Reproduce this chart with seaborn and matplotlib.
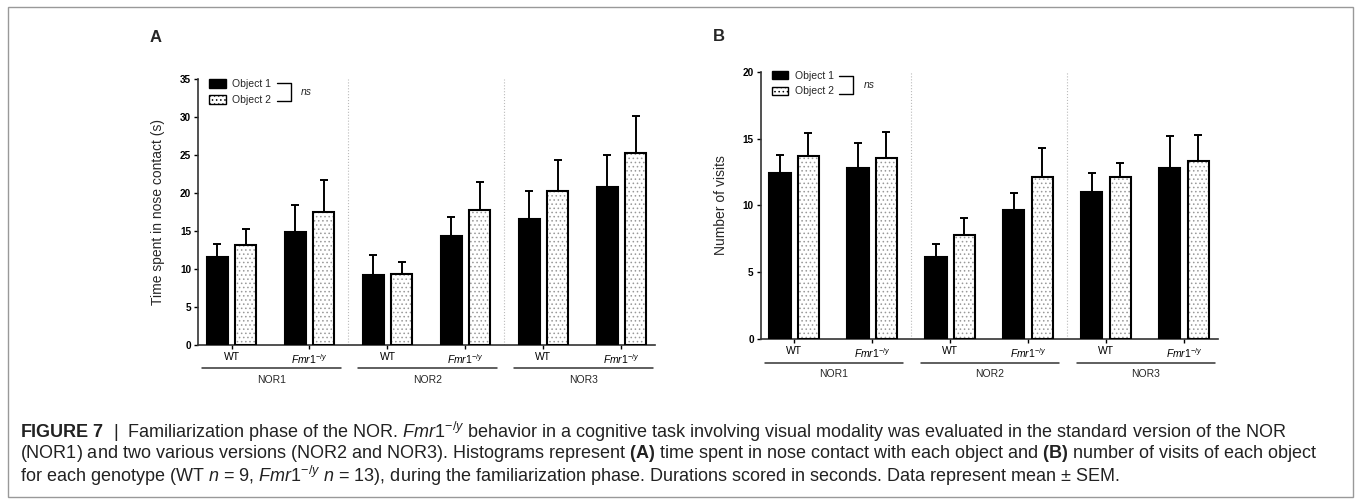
import matplotlib
matplotlib.use("Agg")
import matplotlib.pyplot as plt
import matplotlib.transforms as mtransforms
from matplotlib.patches import Patch, Rectangle
import pandas as pd
import seaborn as sns

# values (mean and SEM)
groups = ["NOR1", "NOR2", "NOR3"]
genotypes = ["WT", "Fmr1"]
objects = ["Object 1", "Object 2"]

time_obj1 = [11.6, 14.9, 9.2, 14.3, 16.6, 20.8]
time_obj1_sem = [1.7, 3.5, 2.6, 2.6, 3.6, 4.2]
time_obj2 = [13.1, 17.5, 9.3, 17.8, 20.2, 25.3]
time_obj2_sem = [2.2, 4.2, 1.6, 3.6, 4.2, 4.8]

visits_obj1 = [12.4, 12.8, 6.15, 9.65, 11.0, 12.8]
visits_obj1_sem = [1.4, 1.85, 0.95, 1.3, 1.45, 2.4]
visits_obj2 = [13.7, 13.55, 7.8, 12.1, 12.15, 13.35]
visits_obj2_sem = [1.7, 1.95, 1.25, 2.2, 1.0, 1.95]

tick_labels = ["WT", r"$\mathit{Fmr1}^{-/y}$"] * 3

sns.set_style("ticks")
plt.rcParams["font.family"] = ["Liberation Sans", "DejaVu Sans"]
plt.rcParams["mathtext.fontset"] = "custom"
plt.rcParams["mathtext.rm"] = "Liberation Sans"
plt.rcParams["mathtext.it"] = "Liberation Sans:italic"
plt.rcParams["mathtext.bf"] = "Liberation Sans:bold"
plt.rcParams["hatch.linewidth"] = 0.6

conds = [g + " " + t for g in groups for t in genotypes]


def make_frame(v1, v2):
    rows = []
    for c, a, b in zip(conds, v1, v2):
        rows.append({"cond": c, "object": objects[0], "value": a})
        rows.append({"cond": c, "object": objects[1], "value": b})
    return pd.DataFrame(rows)


def draw_panel(ax, v1, s1, v2, s2, ymax, ylabel, leg_y):
    df = make_frame(v1, v2)
    sns.barplot(data=df, x="cond", y="value", hue="object", order=conds,
                hue_order=objects, palette=["black", "white"], width=0.73,
                gap=0.26, edgecolor="black", linewidth=1.5, errorbar=None,
                legend=False, ax=ax, zorder=3)
    for cont, sem in zip(ax.containers, [s1, s2]):
        xs = [b.get_x() + b.get_width() / 2 for b in cont]
        ys = [b.get_height() for b in cont]
        ax.errorbar(xs, ys, yerr=[[0] * len(sem), sem], fmt="none",
                    ecolor="black", elinewidth=1.4, capsize=3.2,
                    capthick=1.4, zorder=2)
    for b in ax.containers[1]:
        b.set_hatch("....")
        b._hatch_color = (0.6, 0.6, 0.6, 1)

    ax.set_ylim(0, ymax)
    ax.set_yticks(range(0, ymax + 1, 5))
    ax.set_xlim(-0.43, 5.43)
    ax.set_xticks(range(6))
    ax.set_xticklabels(tick_labels, fontsize=7.5)
    for lab in ax.get_yticklabels():
        lab.set_fontweight("bold")
        lab.set_fontsize(7.2)
    ax.tick_params(axis="both", length=3, width=1, pad=2, colors="black")
    ax.set_xlabel("")
    ax.set_ylabel(ylabel, fontsize=10)
    ax.yaxis.set_label_coords(-0.072, 0.5)
    sns.despine(ax=ax)
    for sp in ["left", "bottom"]:
        ax.spines[sp].set_linewidth(1.2)
        ax.spines[sp].set_color("#333333")

    for xv in [1.5, 3.5]:
        ax.axvline(xv, color="#bbbbbb", lw=0.8, ls=":", zorder=1)

    trans = mtransforms.blended_transform_factory(ax.transData, ax.transAxes)
    for i, g in enumerate(groups):
        c = 2 * i + 0.51
        ax.plot([c - 0.89, c + 0.89], [-0.088, -0.088], color="#333333",
                lw=1.1, transform=trans, clip_on=False)
        ax.text(c, -0.13, g, transform=trans, ha="center", va="center",
                fontsize=7.5)

    handles = [Patch(facecolor="black", edgecolor="black", lw=1),
               Patch(facecolor="white", edgecolor="black", lw=1,
                     hatch="....")]
    ax.legend(handles, objects, loc="upper left", frameon=False,
              bbox_to_anchor=(0.015, leg_y), fontsize=7.5, handlelength=1.6,
              handleheight=0.9, handletextpad=0.6, labelspacing=0.55,
              borderaxespad=0)
    bx0, bx1 = 0.172, 0.203
    ax.plot([bx0, bx1, bx1, bx0], [0.985, 0.985, 0.918, 0.918],
            transform=ax.transAxes, color="black", lw=1, clip_on=False)
    ax.text(bx1 + 0.022, 0.952, "ns", transform=ax.transAxes,
            fontstyle="italic", fontsize=7.5, va="center")


fig = plt.figure(figsize=(13.56, 5.03), dpi=100)
ax_a = fig.add_axes([0.146, 0.314, 0.337, 0.529])
ax_b = fig.add_axes([0.561, 0.326, 0.337, 0.531])

draw_panel(ax_a, time_obj1, time_obj1_sem, time_obj2, time_obj2_sem, 35,
           "Time spent in nose contact (s)", 1.015)
draw_panel(ax_b, visits_obj1, visits_obj1_sem, visits_obj2, visits_obj2_sem,
           20, "Number of visits", 1.02)

fig.text(150 / 1356, 1 - 38 / 503, "A", fontweight="bold", fontsize=12,
         va="center")
fig.text(713 / 1356, 1 - 37 / 503, "B", fontweight="bold", fontsize=12,
         va="center")

fig.patches.append(Rectangle((8 / 1356, 1 - 497 / 503), 1345 / 1356,
                             490 / 503, transform=fig.transFigure, fill=False,
                             ec="#999999", lw=1))

caption = [
    r"$\mathbf{FIGURE\ 7}$  |  Familiarization phase of the NOR. "
    r"$\mathit{Fmr1}^{-/y}$ behavior in a cognitive task involving visual "
    r"modality was evaluated in the standard version of the NOR",
    r"(NOR1) and two various versions (NOR2 and NOR3). Histograms represent "
    r"$\mathbf{(A)}$ time spent in nose contact with each object and "
    r"$\mathbf{(B)}$ number of visits of each object",
    r"for each genotype (WT $\mathit{n}$ = 9, $\mathit{Fmr1}^{-/y}$ "
    r"$\mathit{n}$ = 13), during the familiarization phase. Durations scored "
    r"in seconds. Data represent mean ± SEM.",
]
for i, line in enumerate(caption):
    fig.text(20 / 1356, 1 - (432 + 22 * i) / 503, line, fontsize=13.0,
             va="center", color="#222222")

fig.savefig("out.png", dpi=100)
